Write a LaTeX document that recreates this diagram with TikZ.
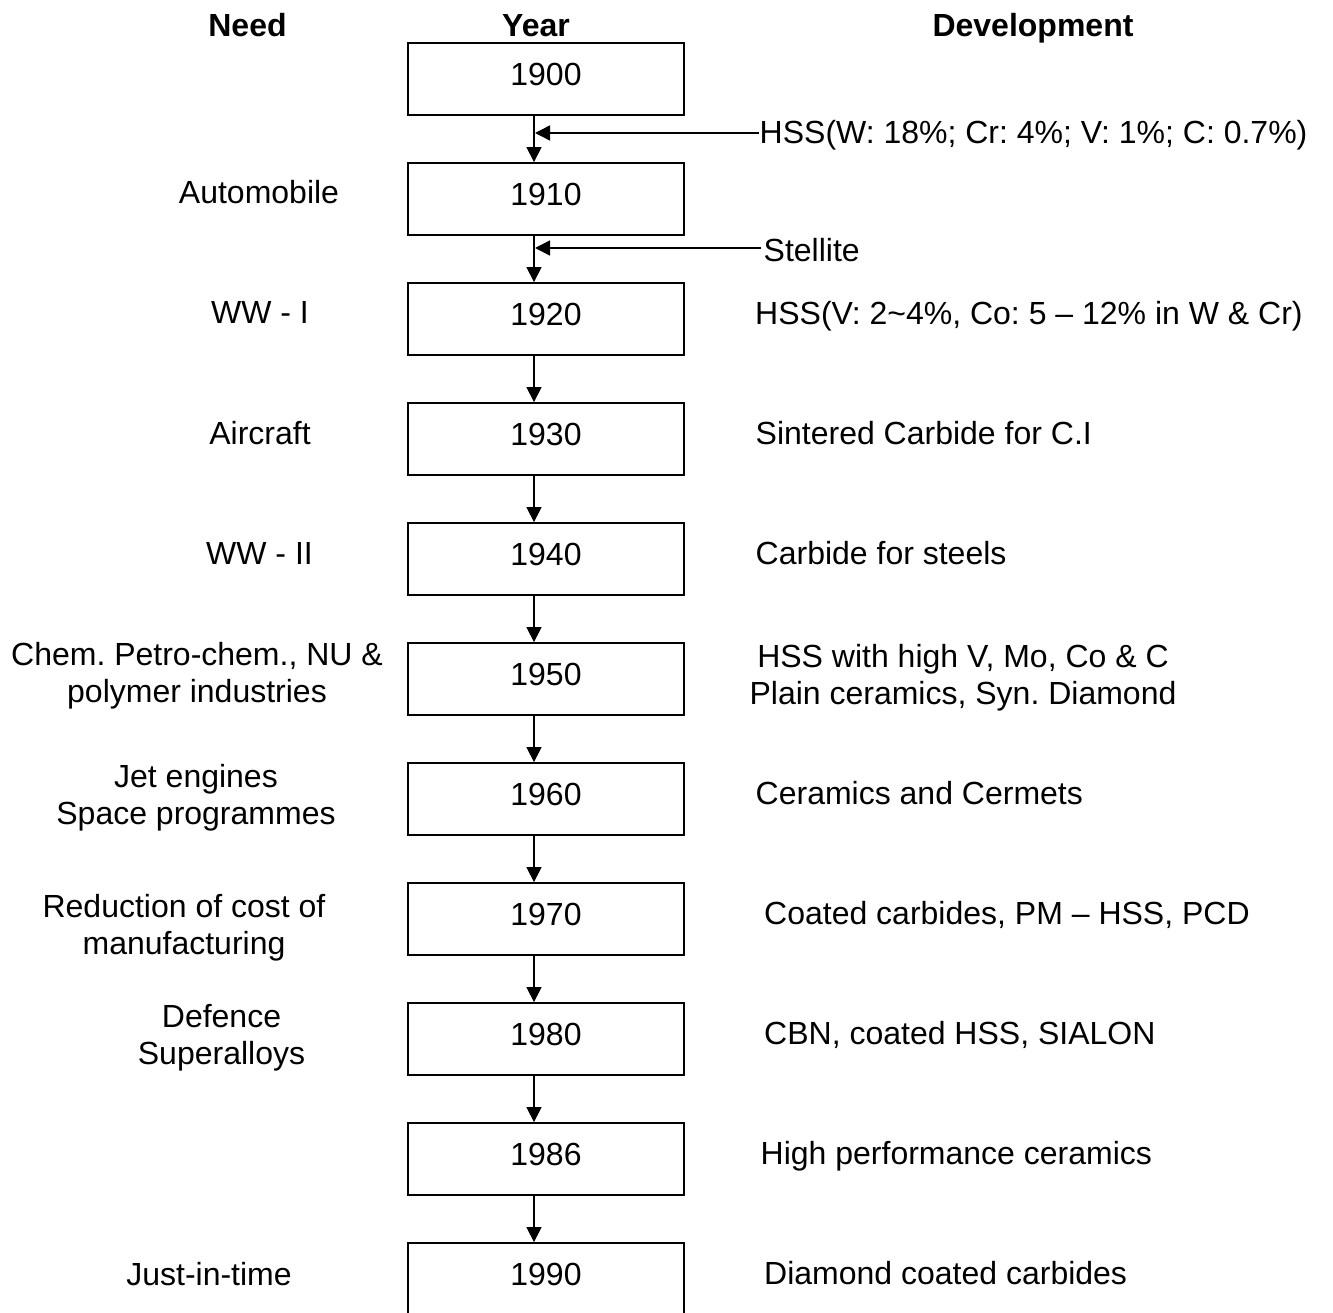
\documentclass[tikz,border=0pt]{standalone}
\usepackage{fontspec}
\setmainfont{Liberation Sans}
\usetikzlibrary{arrows.meta,positioning}
\newcommand{\chartfont}{\fontsize{32}{36.7}\selectfont\frenchspacing}
\tikzset{
  yearbox/.style={
    draw,
    line width = 1.8pt,
    minimum width = 276pt,
    minimum height = 72pt,
    inner sep = 0pt,
    text height = 23pt,
    text depth = 10pt
  },
  flow/.style={
    -{Triangle[length=15pt,width=15pt]},
    line width = 1.4pt
  },
  need/.style={
    anchor = base,
    align = center,
    inner sep = 0pt
  },
  devel/.style={
    anchor = base west,
    inner sep = 0pt
  },
  head/.style={
    anchor = base,
    inner sep = 0pt,
    font = \chartfont\bfseries
  },
  every picture/.style = {
    x = 1pt,
    y = -1pt,
    font = \chartfont
  }
}

\begin{document}
\begin{tikzpicture}
    \useasboundingbox (0,0) rectangle (1333,1313);
    % column heads
    \node[head] (hneed) at (247.5,37) {Need};
    \node[head] (hyear) at (536,37) {Year};
    \node[head] (hdev) at (1033,37) {Development};
    % year boxes
    \foreach \yr [count=\k from 0] in {1900,1910,1920,1930,1940,1950,1960,1970,1980,1986,1990}{
            \node[yearbox] (y\yr) at (546,79+120*\k) {\yr};
        }
    \foreach \a/\b in {1900/1910,1910/1920,1920/1930,1930/1940,1940/1950,1950/1960,1960/1970,1970/1980,1980/1986,1986/1990}{
            \draw[flow] ([xshift=-12pt]y\a.south) -- ([xshift=-12pt]y\b.north);
        }
    % needs (base = last line)
    \node[need] (n1910) at (259,204) {Automobile};
    \node[need] (n1920) at (260,324) {WW - I};
    \node[need] (n1930) at (260,444) {Aircraft};
    \node[need] (n1940) at (259.5,564) {WW - II};
    \node[need] (n1950) at (197,702) {Chem. Petro-chem., NU \&\\polymer industries};
    \node[need] (n1960) at (196,824) {Jet engines\\Space programmes};
    \node[need] (n1970) at (184,954) {Reduction of cost of\\manufacturing};
    \node[need] (n1980) at (221.5,1064) {Defence\\Superalloys};
    \node[need] (n1990) at (209,1285) {Just-in-time};
    % developments
    \node[devel] (d1900) at (759.5,143.5) {HSS(W: 18\%; Cr: 4\%; V: 1\%; C: 0.7\%)};
    \node[devel] (d1910) at (763.5,262) {Stellite};
    \node[devel] (d1920) at (755,324.5) {HSS(V: 2\textasciitilde 4\%, Co: 5 – 12\% in W \& Cr)};
    \node[devel] (d1930) at (755.5,444.5) {Sintered Carbide for C.I};
    \node[devel] (d1940) at (755.5,564.5) {Carbide for steels};
    \node[need] (d1950) at (963,704) {HSS with high V, Mo, Co \& C\\Plain ceramics, Syn. Diamond};
    \node[devel] (d1960) at (755.5,804.5) {Ceramics and Cermets};
    \node[devel] (d1970) at (764,924.5) {Coated carbides, PM – HSS, PCD};
    \node[devel] (d1980) at (764,1044.5) {CBN, coated HSS, SIALON};
    \node[devel] (d1986) at (760.5,1164.5) {High performance ceramics};
    \node[devel] (d1990) at (764,1284.5) {Diamond coated carbides};
    % feeds into the line
    \coordinate (j1) at (535,133);
    \coordinate (j2) at (535,248);
    \draw[flow] ([xshift=-1pt]d1900.west |- j1) -- (j1);
    \draw[flow] ([xshift=-3pt]d1910.west |- j2) -- (j2);
\end{tikzpicture}
\end{document}
